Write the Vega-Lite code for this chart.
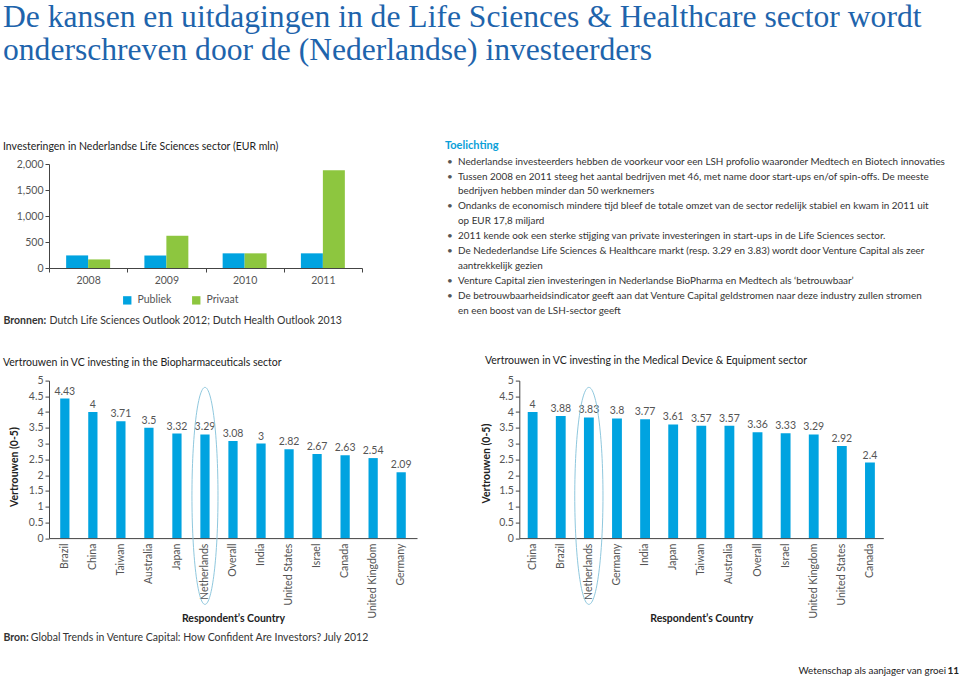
{
  "$schema": "https://vega.github.io/schema/vega-lite/v6.json",
  "background": "white",
  "padding": {"left": 3, "top": 2, "right": 0, "bottom": 0},
  "title": {
    "text": ["De kansen en uitdagingen in de Life Sciences & Healthcare sector wordt", "onderschreven door de (Nederlandse) investeerders"],
    "anchor": "start",
    "frame": "group",
    "font": "Liberation Serif",
    "fontSize": 31.6,
    "fontWeight": "normal",
    "color": "#1E64AC",
    "lineHeight": 33,
    "dx": -46,
    "offset": 73
  },
  "datasets": {
    "invest": [
      {"year": "2008", "series": "Publiek", "value": 242},
      {"year": "2008", "series": "Privaat", "value": 165},
      {"year": "2009", "series": "Publiek", "value": 240},
      {"year": "2009", "series": "Privaat", "value": 620},
      {"year": "2010", "series": "Publiek", "value": 282},
      {"year": "2010", "series": "Privaat", "value": 282},
      {"year": "2011", "series": "Publiek", "value": 282},
      {"year": "2011", "series": "Privaat", "value": 1880}
    ],
    "bio": [
      {"country": "Brazil", "value": 4.43},
      {"country": "China", "value": 4},
      {"country": "Taiwan", "value": 3.71},
      {"country": "Australia", "value": 3.5},
      {"country": "Japan", "value": 3.32},
      {"country": "Netherlands", "value": 3.29},
      {"country": "Overall", "value": 3.08},
      {"country": "India", "value": 3},
      {"country": "United States", "value": 2.82},
      {"country": "Israel", "value": 2.67},
      {"country": "Canada", "value": 2.63},
      {"country": "United Kingdom", "value": 2.54},
      {"country": "Germany", "value": 2.09}
    ],
    "med": [
      {"country": "China", "value": 4},
      {"country": "Brazil", "value": 3.88},
      {"country": "Netherlands", "value": 3.83},
      {"country": "Germany", "value": 3.8},
      {"country": "India", "value": 3.77},
      {"country": "Japan", "value": 3.61},
      {"country": "Taiwan", "value": 3.57},
      {"country": "Australia", "value": 3.57},
      {"country": "Overall", "value": 3.36},
      {"country": "Israel", "value": 3.33},
      {"country": "United Kingdom", "value": 3.29},
      {"country": "United States", "value": 2.92},
      {"country": "Canada", "value": 2.4}
    ],
    "notes": [
      {"line": 0, "bullet": true, "text": "Nederlandse investeerders hebben de voorkeur voor een LSH profolio waaronder Medtech en Biotech innovaties"},
      {"line": 1, "bullet": true, "text": "Tussen 2008 en 2011 steeg het aantal bedrijven met 46, met name door start-ups en/of spin-offs. De meeste"},
      {"line": 2, "bullet": false, "text": "bedrijven hebben minder dan 50 werknemers"},
      {"line": 3, "bullet": true, "text": "Ondanks de economisch mindere tijd bleef de totale omzet van de sector redelijk stabiel en kwam in 2011 uit"},
      {"line": 4, "bullet": false, "text": "op EUR 17,8 miljard"},
      {"line": 5, "bullet": true, "text": "2011 kende ook een sterke stijging  van private investeringen in start-ups in de Life Sciences sector."},
      {"line": 6, "bullet": true, "text": "De Nedederlandse Life Sciences & Healthcare markt (resp. 3.29 en 3.83) wordt door Venture Capital als zeer"},
      {"line": 7, "bullet": false, "text": "aantrekkelijk gezien"},
      {"line": 8, "bullet": true, "text": "Venture Capital zien investeringen in Nederlandse BioPharma en Medtech als ‘betrouwbaar’"},
      {"line": 9, "bullet": true, "text": "De betrouwbaarheidsindicator geeft aan dat Venture Capital geldstromen naar deze industry zullen stromen"},
      {"line": 10, "bullet": false, "text": "en een boost van de LSH-sector geeft"}
    ]
  },
  "columns": 2,
  "align": "none",
  "bounds": "flush",
  "spacing": {"row": 112.6, "column": 102.3},
  "concat": [
    {
      "width": 313,
      "height": 104,
      "data": {"name": "invest"},
      "title": {"text": "Investeringen in Nederlandse Life Sciences sector (EUR mln)", "anchor": "start", "frame": "group", "dx": -46, "offset": 6.7},
      "mark": {"type": "bar"},
      "encoding": {
        "x": {
          "field": "year", "type": "nominal",
          "scale": {"paddingInner": 0, "paddingOuter": 0},
          "axis": {
            "title": "Dutch Life Sciences Outlook 2012; Dutch Health Outlook 2013",
            "labelAngle": 0, "tickBand": "extent", "labelPadding": 3,
            "titleX": 0, "titleY": 52.5, "titleAlign": "left", "titleBaseline": "middle",
            "titleFontWeight": "normal", "titleColor": "#333"
          }
        },
        "xOffset": {"field": "series", "sort": ["Publiek", "Privaat"], "scale": {"paddingInner": 0, "paddingOuter": 0.78}},
        "y": {
          "field": "value", "type": "quantitative",
          "scale": {"domain": [0, 2000], "nice": false},
          "axis": {
            "values": [0, 500, 1000, 1500, 2000], "format": ",.0f",
            "title": "Bronnen:", "titleAngle": 0, "titleX": -46, "titleY": 156.5,
            "titleAlign": "left", "titleBaseline": "middle", "titleFontWeight": "bold", "titleColor": "#333"
          }
        },
        "color": {
          "field": "series", "type": "nominal",
          "scale": {"domain": ["Publiek", "Privaat"], "range": ["#00A3E0", "#8DC63F"]},
          "legend": {
            "orient": "none", "legendX": 73, "legendY": 131, "direction": "horizontal", "title": null,
            "symbolType": "square", "symbolSize": 70, "symbolStrokeWidth": 0,
            "labelFontSize": 10.5, "labelColor": "#555", "columnPadding": 19, "labelOffset": 5
          }
        }
      }
    },
    {
      "width": 420,
      "height": 104,
      "data": {"name": "notes"},
      "title": {"text": "Toelichting", "anchor": "start", "frame": "group", "dx": -74.3, "offset": 5.7, "color": "#0AA0D8", "fontWeight": "bold", "fontSize": 11},
      "encoding": {
        "y": {
          "field": "line", "type": "quantitative",
          "scale": {"domain": [0.161, 7.141], "reverse": true, "nice": false, "zero": false},
          "axis": {
            "title": "11", "labels": false, "ticks": false, "domain": false,
            "titleAngle": 0, "titleX": 427.7, "titleY": 506.3, "titleAlign": "left", "titleBaseline": "middle",
            "titleFontWeight": "bold", "titleColor": "#222", "titleFontSize": 10
          }
        }
      },
      "layer": [
        {
          "transform": [{"filter": "datum.bullet"}],
          "mark": {"type": "text", "align": "left", "baseline": "middle", "fontSize": 9.9, "color": "#555"},
          "encoding": {
            "x": {
              "datum": 0, "type": "quantitative",
              "scale": {"domain": [72.3, 492.3], "nice": false, "zero": false},
              "axis": {
                "title": "Wetenschap als aanjager van groei", "labels": false, "ticks": false, "domain": false,
                "titleX": 278.7, "titleY": 402.3, "titleAlign": "left", "titleBaseline": "middle",
                "titleFontWeight": "normal", "titleColor": "#222", "titleFontSize": 9.8
              }
            },
            "text": {"value": "•"}
          }
        },
        {
          "mark": {"type": "text", "align": "left", "baseline": "middle", "fontSize": 9.9, "color": "#333"},
          "encoding": {
            "x": {"datum": 11, "type": "quantitative"},
            "text": {"field": "text"}
          }
        }
      ]
    },
    {
      "width": 368,
      "height": 157.5,
      "data": {"name": "bio"},
      "title": {"text": "Vertrouwen in VC investing in the Biopharmaceuticals sector", "anchor": "start", "frame": "group", "dx": -46, "offset": 6.8},
      "resolve": {"axis": {"x": "independent", "y": "independent"}},
      "layer": [
        {
          "mark": {"type": "bar", "color": "#00A3E0"},
          "encoding": {
            "x": {
              "field": "country", "type": "nominal",
              "scale": {"domain": ["Brazil", "China", "Taiwan", "Australia", "Japan", "Netherlands", "Overall", "India", "United States", "Israel", "Canada", "United Kingdom", "Germany"], "paddingInner": 0.67, "paddingOuter": 0.4},
              "axis": {
                "title": "Respondent’s Country", "labelAngle": -90, "ticks": false, "labelPadding": 5,
                "titleX": 184, "titleY": 80.5, "titleAlign": "center", "titleBaseline": "middle", "titleFontWeight": "bold"
              }
            },
            "y": {
              "field": "value", "type": "quantitative",
              "scale": {"domain": [0, 5], "nice": false},
              "axis": {
                "values": [0, 0.5, 1, 1.5, 2, 2.5, 3, 3.5, 4, 4.5, 5], "format": ".1~f",
                "title": "Vertrouwen (0-5)", "titleAngle": -90, "titleX": -35, "titleY": 86,
                "titleAlign": "center", "titleBaseline": "middle", "titleFontWeight": "bold"
              }
            }
          }
        },
        {
          "mark": {"type": "text", "baseline": "bottom", "dy": -2, "fontSize": 10.5, "color": "#555"},
          "encoding": {
            "x": {
              "field": "country", "type": "nominal",
              "axis": {
                "orient": "top", "title": "Bron:", "labels": false, "ticks": false, "domain": false,
                "titleX": -46, "titleY": 256.7, "titleAlign": "left", "titleBaseline": "middle", "titleFontWeight": "bold", "titleColor": "#333"
              }
            },
            "y": {"field": "value", "type": "quantitative", "axis": null},
            "text": {"field": "value", "type": "quantitative", "format": ".2~f"}
          }
        },
        {
          "transform": [{"filter": "datum.country == 'Netherlands'"}],
          "mark": {"type": "point", "shape": "M0,-1A0.12,1,0,1,1,0,1A0.12,1,0,1,1,0,-1Z", "size": 47089, "filled": false, "stroke": "#8FC8DE", "strokeWidth": 1, "opacity": 1},
          "encoding": {
            "x": {"field": "country", "type": "nominal", "axis": null},
            "y": {
              "datum": 1.34, "type": "quantitative",
              "axis": {
                "orient": "right", "title": "Global Trends in Venture Capital: How Confident Are Investors? July 2012",
                "labels": false, "ticks": false, "domain": false,
                "titleAngle": 0, "titleX": -386.7, "titleY": 256.7, "titleAlign": "left", "titleBaseline": "middle",
                "titleFontWeight": "normal", "titleColor": "#333"
              }
            }
          }
        }
      ]
    },
    {
      "width": 364,
      "height": 157.5,
      "data": {"name": "med"},
      "title": {"text": "Vertrouwen in VC investing in the Medical Device & Equipment sector", "anchor": "start", "frame": "group", "dx": -34.3, "offset": 8.8},
      "layer": [
        {
          "mark": {"type": "bar", "color": "#00A3E0"},
          "encoding": {
            "x": {
              "field": "country", "type": "nominal",
              "scale": {"domain": ["China", "Brazil", "Netherlands", "Germany", "India", "Japan", "Taiwan", "Australia", "Overall", "Israel", "United Kingdom", "United States", "Canada"], "paddingInner": 0.65, "paddingOuter": 0.3},
              "axis": {
                "title": "Respondent’s Country", "labelAngle": -90, "ticks": false, "labelPadding": 5,
                "titleX": 182, "titleY": 80.1, "titleAlign": "center", "titleBaseline": "middle", "titleFontWeight": "bold"
              }
            },
            "y": {
              "field": "value", "type": "quantitative",
              "scale": {"domain": [0, 5], "nice": false},
              "axis": {
                "values": [0, 0.5, 1, 1.5, 2, 2.5, 3, 3.5, 4, 4.5, 5], "format": ".1~f",
                "title": "Vertrouwen (0-5)", "titleAngle": -90, "titleX": -33, "titleY": 82.5,
                "titleAlign": "center", "titleBaseline": "middle", "titleFontWeight": "bold"
              }
            }
          }
        },
        {
          "mark": {"type": "text", "baseline": "bottom", "dy": -2, "fontSize": 10.5, "color": "#555"},
          "encoding": {
            "x": {
              "field": "country", "type": "nominal",
              "axis": {
                "title": "Respondent’s Country", "labelAngle": -90, "ticks": false, "labelPadding": 5,
                "titleX": 182, "titleY": 80.1, "titleAlign": "center", "titleBaseline": "middle", "titleFontWeight": "bold"
              }
            },
            "y": {
              "field": "value", "type": "quantitative",
              "axis": {
                "values": [0, 0.5, 1, 1.5, 2, 2.5, 3, 3.5, 4, 4.5, 5], "format": ".1~f",
                "title": "Vertrouwen (0-5)", "titleAngle": -90, "titleX": -33, "titleY": 82.5,
                "titleAlign": "center", "titleBaseline": "middle", "titleFontWeight": "bold"
              }
            },
            "text": {"field": "value", "type": "quantitative", "format": ".2~f"}
          }
        },
        {
          "transform": [{"filter": "datum.country == 'Netherlands'"}],
          "mark": {"type": "point", "shape": "M0,-1A0.13,1,0,1,1,0,1A0.13,1,0,1,1,0,-1Z", "size": 47089, "filled": false, "stroke": "#8FC8DE", "strokeWidth": 1, "opacity": 1},
          "encoding": {
            "x": {
              "field": "country", "type": "nominal",
              "axis": {
                "title": "Respondent’s Country", "labelAngle": -90, "ticks": false, "labelPadding": 5,
                "titleX": 182, "titleY": 80.1, "titleAlign": "center", "titleBaseline": "middle", "titleFontWeight": "bold"
              }
            },
            "y": {
              "datum": 1.34, "type": "quantitative",
              "axis": {
                "values": [0, 0.5, 1, 1.5, 2, 2.5, 3, 3.5, 4, 4.5, 5], "format": ".1~f",
                "title": "Vertrouwen (0-5)", "titleAngle": -90, "titleX": -33, "titleY": 82.5,
                "titleAlign": "center", "titleBaseline": "middle", "titleFontWeight": "bold"
              }
            }
          }
        }
      ]
    }
  ],
  "config": {
    "view": {"stroke": null},
    "font": "Lato",
    "title": {"font": "Lato", "fontSize": 10.5, "fontWeight": "normal", "color": "#222"},
    "axis": {
      "labelFont": "Lato", "labelFontSize": 10.5, "labelColor": "#555",
      "titleFont": "Lato", "titleFontSize": 10.5, "titleColor": "#222",
      "domainColor": "#444", "tickColor": "#444", "tickSize": 4, "grid": false
    },
    "legend": {"labelFont": "Lato"}
  }
}
